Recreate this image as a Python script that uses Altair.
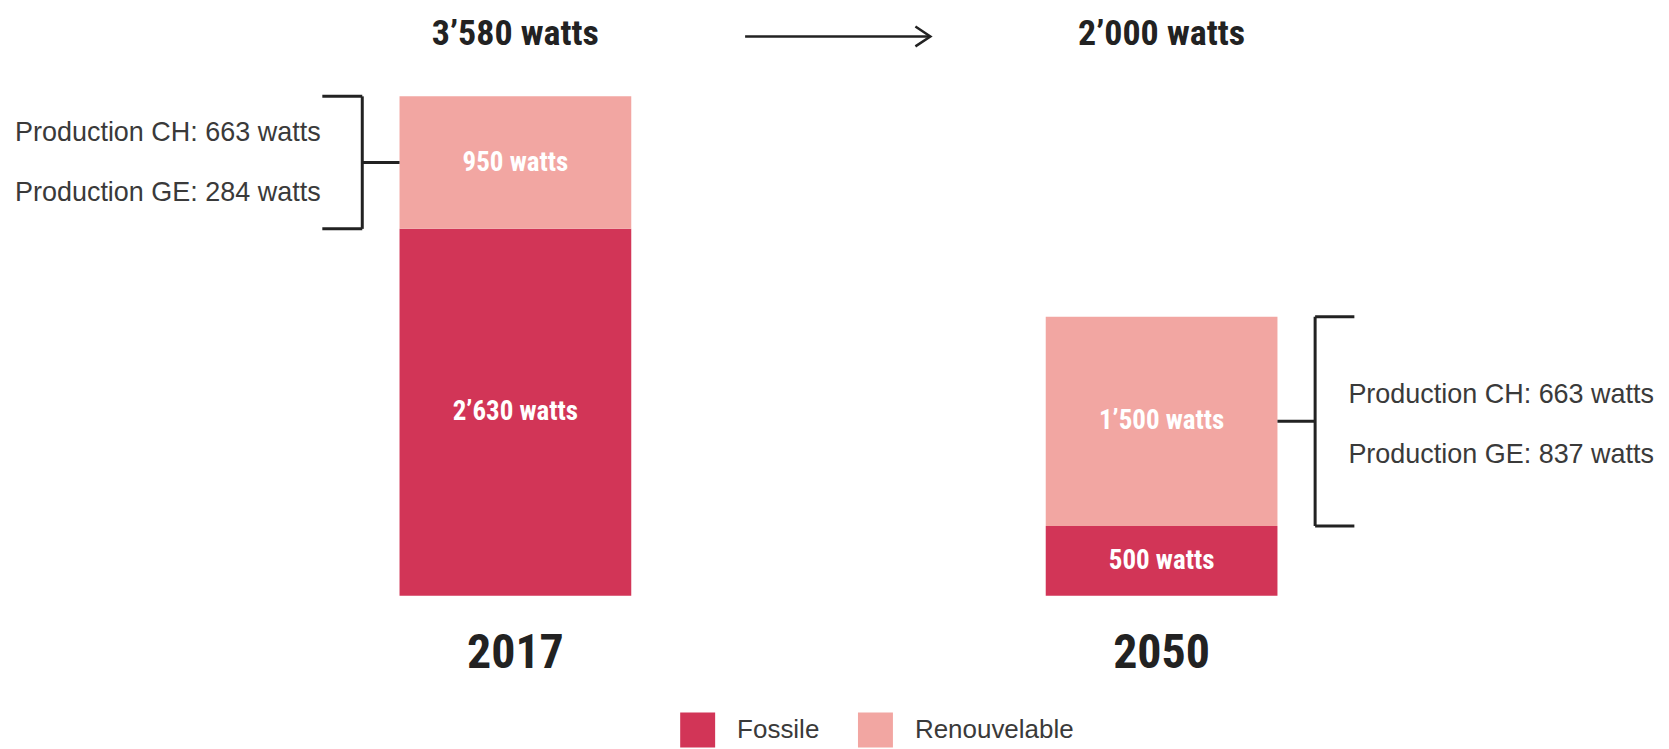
import altair as alt
import pandas as pd

# ---------------- data ----------------
years = ["2017", "2050"]
fossile = [2630, 500]
renouvelable = [950, 1500]
production_ch = [663, 663]
production_ge = [284, 837]
categories = ["Fossile", "Renouvelable"]
colors = ["#D23557", "#F2A6A2"]

# ---------------- layout / style ----------------
W, H = 1655, 741
BAND_RANGE = [392, 1271]
PAD_INNER = 0.6414
Y_RANGE = [588, 88]
COND = "Liberation Sans Narrow, Roboto Condensed, DejaVu Sans Condensed, sans-serif"
SANS = "Liberation Sans, Arial, sans-serif"
INK = "#222222"
TXT = "#3a3a3a"

step = (BAND_RANGE[1] - BAND_RANGE[0]) / (2 - PAD_INNER)
bw = step * (1 - PAD_INNER)
band_start = [BAND_RANGE[0] + i * step for i in range(2)]

seg = pd.DataFrame({
    "year": years * 2,
    "type": [categories[0]] * 2 + [categories[1]] * 2,
    "value": fossile + renouvelable,
    "order": [0, 0, 1, 1],
})
tot = pd.DataFrame({
    "year": years,
    "fossile": fossile,
    "renouvelable": renouvelable,
    "ch": production_ch,
    "ge": production_ge,
})
max_total = max(f + r for f, r in zip(fossile, renouvelable))

xscale = alt.Scale(domain=years, range=BAND_RANGE, paddingInner=PAD_INNER, paddingOuter=0)
yscale = alt.Scale(domain=[0, max_total], range=Y_RANGE, nice=False, zero=True)
X = alt.X("year:N", scale=xscale, axis=None)

fmt = "replace(format({f}, ','), ',', '\u2019') + ' watts'"

base = alt.Chart(seg).transform_stack(
    stack="value", groupby=["year"], as_=["v0", "v1"], sort=[alt.SortField("order")]
)

bars = base.mark_bar(opacity=1).encode(
    x=X,
    y=alt.Y("v0:Q", scale=yscale, axis=None),
    y2="v1:Q",
    color=alt.Color(
        "type:N",
        scale=alt.Scale(domain=categories, range=colors),
        legend=alt.Legend(
            orient="none", legendX=673, legendY=705, direction="horizontal",
            title=None, symbolType="square", symbolSize=1225, symbolStrokeWidth=0,
            symbolOpacity=1, labelFontSize=26, labelFont=SANS, labelColor=TXT,
            labelOffset=22, columnPadding=38, padding=0,
        ),
    ),
)

seg_labels = base.transform_calculate(
    mid="(datum.v0 + datum.v1) / 2",
    label=fmt.format(f="datum.value"),
).mark_text(font=COND, fontWeight="bold", fontSize=27, color="#FFFFFF", baseline="middle").encode(
    x=X, y=alt.Y("mid:Q", scale=yscale), text="label:N"
)

tbase = alt.Chart(tot).transform_calculate(
    total="datum.fossile + datum.renouvelable",
    mid="datum.fossile + datum.renouvelable / 2",
)

titles = tbase.transform_calculate(
    label=fmt.format(f="datum.total")
).mark_text(font=COND, fontWeight="bold", fontSize=36, color=INK, baseline="middle").encode(
    x=X, y=alt.value(26), text="label:N"
)

year_labels = tbase.mark_text(font=COND, fontWeight="bold", fontSize=48, color=INK, baseline="middle").encode(
    x=X, y=alt.value(646), text="year:N"
)

one = alt.Chart(pd.DataFrame({"k": [0]}))
arrow_shaft = one.mark_rule(color=INK, strokeWidth=2.5).encode(
    x=alt.value(738), x2=alt.value(923), y=alt.value(28)
)
arrow_head = one.mark_point(
    shape="M -1.5 -1 L 0 0 L -1.5 1", size=400, filled=False, color=INK, strokeWidth=2.5, opacity=1
).encode(x=alt.value(923.5), y=alt.value(28))


def bracket(i, side):
    yr = years[i]
    d = tbase.transform_filter(alt.datum.year == yr)
    if side == "left":
        vx = band_start[i] - 37.3
        arm = (vx - 40, vx)
        tick = (vx, band_start[i])
        tx, align, shift = vx - 41.7, "right", 0
    else:
        vx = band_start[i] + bw + 37.7
        arm = (vx, vx + 39.3)
        tick = (band_start[i] + bw, vx)
        tx, align, shift = vx + 33.3, "left", 4
    vert = d.mark_rule(color=INK, strokeWidth=3).encode(
        x=alt.value(vx), y=alt.Y("fossile:Q", scale=yscale), y2="total:Q"
    )
    arms = d.transform_fold(["fossile", "total"], as_=["end", "yv"]).mark_rule(
        color=INK, strokeWidth=3
    ).encode(x=alt.value(arm[0]), x2=alt.value(arm[1]), y=alt.Y("yv:Q", scale=yscale))
    mid = d.mark_rule(color=INK, strokeWidth=3).encode(
        x=alt.value(tick[0]), x2=alt.value(tick[1]), y=alt.Y("mid:Q", scale=yscale)
    )
    t_ch = d.transform_calculate(
        label="'Production CH: ' + datum.ch + ' watts'"
    ).mark_text(font=SANS, fontSize=27, color=TXT, align=align, baseline="middle", dy=-30 + shift).encode(
        x=alt.value(tx), y=alt.Y("mid:Q", scale=yscale), text="label:N"
    )
    t_ge = d.transform_calculate(
        label="'Production GE: ' + datum.ge + ' watts'"
    ).mark_text(font=SANS, fontSize=27, color=TXT, align=align, baseline="middle", dy=30 + shift).encode(
        x=alt.value(tx), y=alt.Y("mid:Q", scale=yscale), text="label:N"
    )
    return [vert, arms, mid, t_ch, t_ge]


layers = [bars, seg_labels, titles, year_labels, arrow_shaft, arrow_head]
layers += bracket(0, "left") + bracket(1, "right")

chart = alt.layer(*layers).properties(
    width=W, height=H, autosize=alt.AutoSizeParams(type="none"), padding=0
).configure_view(stroke=None)

chart.save("out.html", embed_options={"renderer": "svg", "actions": False})
